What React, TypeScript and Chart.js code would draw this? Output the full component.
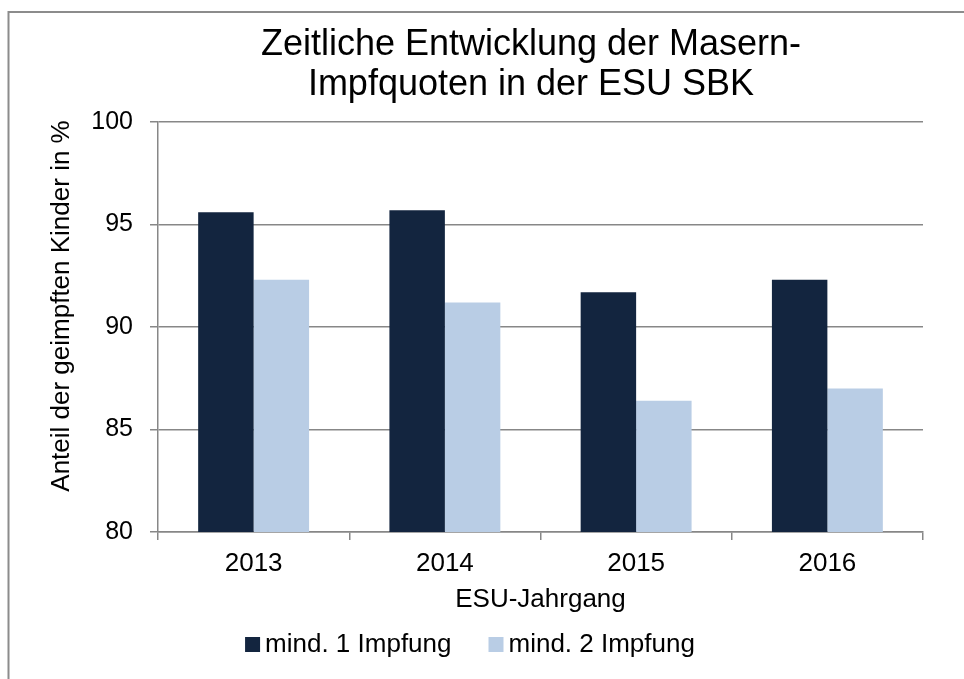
import React, { useEffect, useRef } from "react";
import { Chart, registerables } from "chart.js";

Chart.register(...registerables);

const categories = ["2013", "2014", "2015", "2016"];
const seriesNames = ["mind. 1 Impfung", "mind. 2 Impfung"];
const mind1Values = [95.6, 95.7, 91.7, 92.3];
const mind2Values = [92.3, 91.2, 86.4, 87.0];
const yTickValues = [80, 85, 90, 95, 100];
const titleLines = ["Zeitliche Entwicklung der Masern-", "Impfquoten in der ESU SBK"];
const xAxisTitle = "ESU-Jahrgang";
const yAxisTitle = "Anteil der geimpften Kinder in %";
const seriesColors = ["#13253F", "#B9CDE5"];

const FONT = "'Liberation Sans', Arial, sans-serif";
const GRID = "#878787";

const decorPlugin = {
  id: "decor",
  beforeDraw(chart: any) {
    const ctx = chart.ctx;
    ctx.save();
    ctx.fillStyle = "#ffffff";
    ctx.fillRect(0, 0, chart.width, chart.height);
    ctx.strokeStyle = "#8c8c8c";
    ctx.lineWidth = 2;
    ctx.strokeRect(8.5, 12, chart.width + 50, chart.height + 50);
    ctx.restore();
  },
  afterDraw(chart: any) {
    const ctx = chart.ctx;
    // main title
    ctx.save();
    ctx.font = `36px ${FONT}`;
    ctx.fillStyle = "#000";
    ctx.textAlign = "center";
    ctx.textBaseline = "middle";
    titleLines.forEach((line, i) => ctx.fillText(line, 531, 45 + i * 40.5));
    ctx.restore();

    // y axis title
    ctx.save();
    ctx.font = `26px ${FONT}`;
    ctx.fillStyle = "#000";
    ctx.textAlign = "center";
    ctx.textBaseline = "middle";
    ctx.translate(62, 306);
    ctx.rotate(-Math.PI / 2);
    ctx.fillText(yAxisTitle, 0, 0);
    ctx.restore();

    // legend
    ctx.save();
    ctx.font = `26px ${FONT}`;
    const sq = 15;
    const gap = 5;
    const itemGap = 37;
    const widths = chart.data.datasets.map((d: any) => ctx.measureText(d.label).width);
    const total = widths.reduce((a: number, w: number) => a + sq + gap + w, 0) + itemGap * (widths.length - 1);
    let x = 470 - total / 2;
    const cy = 645;
    chart.data.datasets.forEach((d: any, i: number) => {
      ctx.fillStyle = d.backgroundColor;
      ctx.fillRect(x, cy - sq / 2 - 0.5, sq, sq);
      x += sq + gap;
      ctx.fillStyle = "#000";
      ctx.textAlign = "left";
      ctx.textBaseline = "middle";
      ctx.fillText(d.label, x, cy);
      x += widths[i] + itemGap;
    });
    ctx.restore();
  },
};

export default function App() {
  const ref = useRef<HTMLCanvasElement | null>(null);

  useEffect(() => {
    if (!ref.current) return;
    const chart = new Chart(ref.current, {
      type: "bar",
      data: {
        labels: categories,
        datasets: [
          { label: seriesNames[0], data: mind1Values, backgroundColor: seriesColors[0] },
          { label: seriesNames[1], data: mind2Values, backgroundColor: seriesColors[1] },
        ],
      },
      options: {
        responsive: false,
        animation: false,
        devicePixelRatio: 1,
        layout: { padding: { left: 9, right: 41, top: 122, bottom: 64 } },
        datasets: { bar: { barPercentage: 1, categoryPercentage: 0.58 } },
        plugins: {
          legend: { display: false },
          tooltip: { enabled: false },
          title: { display: false },
        },
        scales: {
          x: {
            grid: { offset: true, drawOnChartArea: false, drawTicks: true, tickLength: 8, color: GRID, lineWidth: 1.5 },
            border: { display: true, color: GRID, width: 1.5 },
            ticks: { color: "#000", font: { family: FONT, size: 26 }, padding: 8 },
            title: { display: true, text: xAxisTitle, color: "#000", font: { family: FONT, size: 26 }, padding: { top: 0, bottom: 0 } },
            afterFit: (s: any) => { s.height = 83; },
          },
          y: {
            min: 80,
            max: 100,
            afterBuildTicks: (s: any) => { s.ticks = yTickValues.map((v) => ({ value: v })); },
            grid: { color: GRID, lineWidth: 1.5, tickLength: 8, drawTicks: true },
            border: { display: true, color: GRID, width: 1.5 },
            ticks: { color: "#000", font: { family: FONT, size: 25 }, padding: 17 },
            afterFit: (s: any) => { s.width = 149; },
          },
        },
      },
      plugins: [decorPlugin],
    });
    return () => chart.destroy();
  }, []);

  return (
    <div style={{ position: "fixed", left: 0, top: 0, width: 964, height: 679, background: "#fff" }}>
      <canvas ref={ref} width={964} height={679} style={{ display: "block", width: 964, height: 679 }} />
    </div>
  );
}
